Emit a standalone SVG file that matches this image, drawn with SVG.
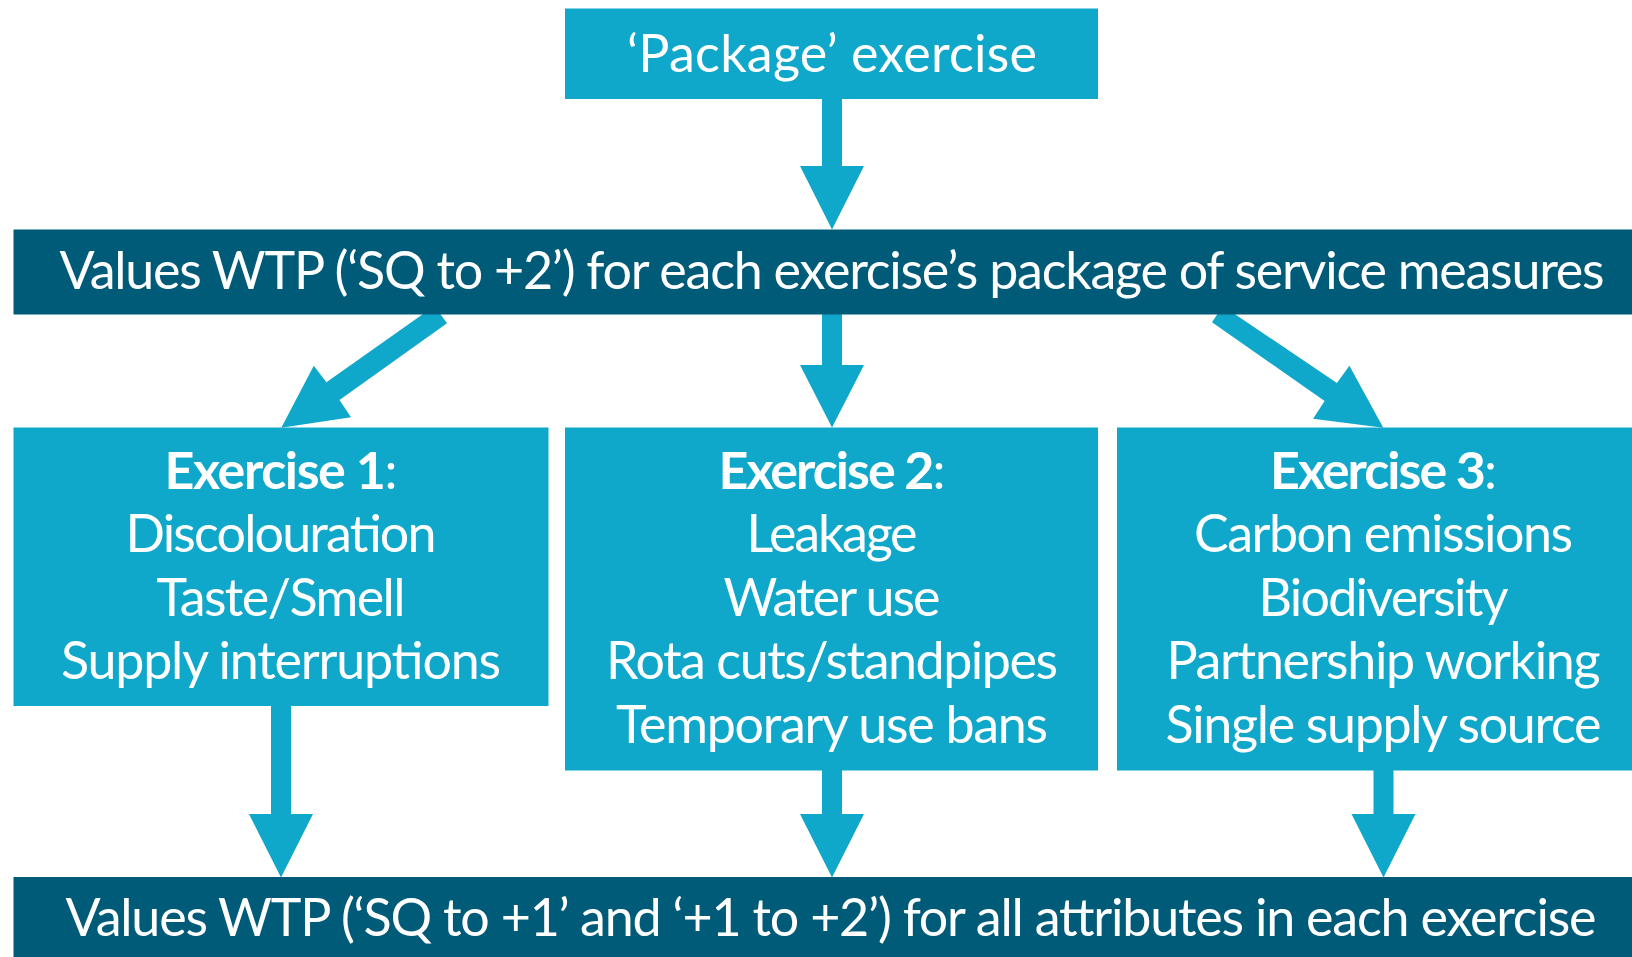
<svg xmlns="http://www.w3.org/2000/svg" width="1632" height="957" viewBox="0 0 1632 957">
<style>
.light{fill:#0FA7CA}
.dark{fill:#005B78}
.arrow{fill:#0FA7CA}
text{font-family:Lato,"Open Sans","Liberation Sans",sans-serif;font-size:52px;fill:#FFFFFF;text-anchor:middle}
.b{font-weight:bold}
</style>
<rect width="1632" height="957" fill="#FFFFFF"/>
<g id="connectors">
<polygon class="arrow" points="822,98 842,98 842,166 864,166 832,229.5 800,166 822,166"/>
<polygon class="arrow" points="822,314 842,314 842,365 864,365 832,427.5 800,365 822,365"/>
<polygon class="arrow" points="434.4,306 447,323.3 339.5,400 351,417.3 281.3,427.7 313.8,365.7 326.4,382.3"/>
<polygon class="arrow" points="1222.8,306 1336.9,383 1349.4,365.7 1383.3,427.7 1313.1,418.7 1324.6,401 1212,322.3"/>
<polygon class="arrow" points="271,705 291,705 291,814 313,814 281,877.5 249,814 271,814"/>
<polygon class="arrow" points="822,770 842,770 842,814 864,814 832,877.5 800,814 822,814"/>
<polygon class="arrow" points="1373.5,770 1393.5,770 1393.5,814 1415.5,814 1383.5,877.5 1351.5,814 1373.5,814"/>
</g>
<g id="package">
<rect class="light" x="565" y="8.5" width="533" height="90.5"/>
<text x="832" y="72" textLength="410">‘Package’ exercise</text>
</g>
<g id="values-package">
<rect class="dark" x="13.5" y="229.5" width="1640" height="85"/>
<text x="832" y="289" textLength="1545">Values WTP (‘SQ to +2’) for each exercise’s package of service measures</text>
</g>
<g id="exercise1">
<rect class="light" x="13.5" y="427.5" width="535" height="278.5"/>
<text x="281" y="488.5" textLength="233"><tspan class="b">Exercise 1</tspan>:</text>
<text x="281" y="552" textLength="311">Discolouration</text>
<text x="281" y="615.5" textLength="249">Taste/Smell</text>
<text x="281" y="679" textLength="440">Supply interruptions</text>
</g>
<g id="exercise2">
<rect class="light" x="565" y="427.5" width="533" height="343"/>
<text x="832" y="488.5" textLength="227"><tspan class="b">Exercise 2</tspan>:</text>
<text x="832" y="552" textLength="171">Leakage</text>
<text x="832" y="615.5" textLength="217">Water use</text>
<text x="832" y="679" textLength="452">Rota cuts/standpipes</text>
<text x="832" y="742.5" textLength="432">Temporary use bans</text>
</g>
<g id="exercise3">
<rect class="light" x="1117" y="427.5" width="533" height="343"/>
<text x="1383.5" y="488.5" textLength="227"><tspan class="b">Exercise 3</tspan>:</text>
<text x="1383.5" y="552" textLength="379">Carbon emissions</text>
<text x="1383.5" y="615.5" textLength="250">Biodiversity</text>
<text x="1383.5" y="679" textLength="434">Partnership working</text>
<text x="1383.5" y="742.5" textLength="436">Single supply source</text>
</g>
<g id="values-attributes">
<rect class="dark" x="13.5" y="877" width="1640" height="85"/>
<text x="831" y="936" textLength="1531">Values WTP (‘SQ to +1’ and ‘+1 to +2’) for all attributes in each exercise</text>
</g>
</svg>
